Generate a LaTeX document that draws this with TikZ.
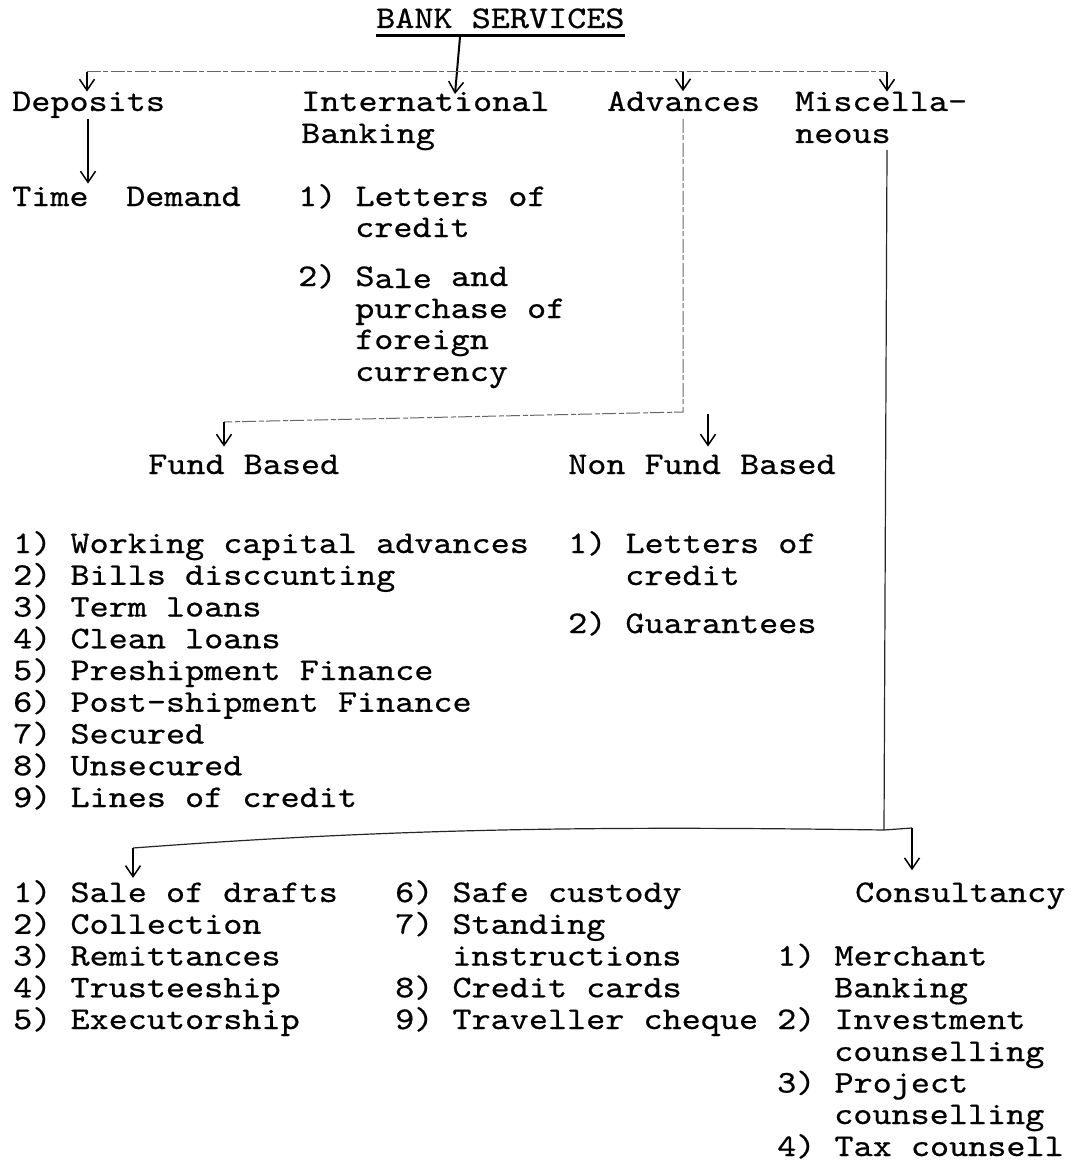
\documentclass[tikz,border=0pt]{standalone}
\usepackage{fontspec}
\newfontfamily\tw{lmmono10-regular.otf}[FakeStretch=1.155,FakeBold=0.6]
\usetikzlibrary{arrows.meta,calc}
\newcommand\twf{\tw\fontsize{31.5}{31.7}\selectfont}
\begin{document}
\begin{tikzpicture}[x=1pt,y=-1pt,
  txt/.style={anchor=base west,inner sep=0pt,font=\twf},
  arr/.style={-{Straight Barb[length=11pt,width=15pt,line width=1.5pt]},line width=1.3pt},
  faint/.style={line width=1pt,black!60,dash pattern=on 14pt off 2pt on 5pt off 3pt},
  solidln/.style={line width=1.2pt,black!85}]
\useasboundingbox[fill=white] (0,0) rectangle (1081,1161);
% top
\node[txt] (title) at (376,28) {BANK SERVICES};
\node[txt] (dep) at (12,111) {Deposits};
\node[txt] (intl) at (301,111) {International};
\node[txt] (intlb) at (301,143) {Banking};
\node[txt] (adv) at (607,111) {Advances};
\node[txt] (misc) at (795,111) {Miscella-};
\node[txt] (miscb) at (795,143) {neous};
\node[txt] (time) at (12,206) {Time};
\node[txt] (demand) at (126,206) {Demand};
\node[txt] (ib1) at (298,206) {1) Letters of};
\node[txt] (ib1b) at (355,237) {credit};
\node[txt] (ib2) at (298,286) {2) S\raisebox{-2pt}{ale} and};
\node[txt] (ib2b) at (355,318) {purchase of};
\node[txt] (ib2c) at (355,349) {foreign};
\node[txt] (ib2d) at (355,381) {currency};
% advances
\node[txt] (fund) at (148,474) {Fund Based};
\node[txt] (nonfund) at (568,474) {Non Fund Based};
\node[txt] (fb1) at (13,553) {1) Working capital advances};
\node[txt] (fb2) at (13,584.75) {2) Bills disccunting};
\node[txt] (fb3) at (13,616.5) {3) Term loans};
\node[txt] (fb4) at (13,648.25) {4) Clean loans};
\node[txt] (fb5) at (13,680) {5) Preshipment Finance};
\node[txt] (fb6) at (13,711.75) {6) Post-shipment Finance};
\node[txt] (fb7) at (13,743.5) {7) Secured};
\node[txt] (fb8) at (13,775.25) {8) Unsecured};
\node[txt] (fb9) at (13,807) {9) Lines of credit};
\node[txt] (nf1) at (568,553) {1) Letters of};
\node[txt] (nf1b) at (625,585) {credit};
\node[txt] (nf2) at (568,633) {2) Guarantees};
% miscellaneous
\node[txt] (o1) at (13,902) {1) Sale of drafts};
\node[txt] (o2) at (13,933.75) {2) Collection};
\node[txt] (o3) at (13,965.5) {3) Remittances};
\node[txt] (o4) at (13,997.25) {4) Trusteeship};
\node[txt] (o5) at (13,1029) {5) Executorship};
\node[txt] (o6) at (395,902) {6) Safe custody};
\node[txt] (o7) at (395,933.75) {7) Standing};
\node[txt] (o7b) at (452,965.5) {instructions};
\node[txt] (o8) at (395,997.25) {8) Credit cards};
\node[txt] (o9) at (395,1029) {9) Traveller cheque};
\node[txt] (cons) at (855,902) {Consultancy};
\node[txt] (c1) at (777,965.5) {1) Merchant};
\node[txt] (c1b) at (834,997.25) {Banking};
\node[txt] (c2) at (777,1029) {2) Investment};
\node[txt] (c2b) at (834,1061) {counselling};
\node[txt] (c3) at (777,1092.5) {3) Project};
\node[txt] (c3b) at (834,1124) {counselling};
\node[txt] (c4) at (777,1156) {4) Tax counsell};
% connectors
\draw[line width=3pt] ($(title.base west)+(0,7.5)$) -- ($(title.base east)+(0,7.5)$);
\coordinate (t0) at (460,37);
\coordinate (t1) at (455,94);
\draw[arr,line width=2pt] (t0) -- (t1);
\coordinate (b1) at (87,72);
\coordinate (b2) at (683,72);
\coordinate (b3) at (887,72);
\draw[faint] (b1) -- (b3);
\draw[arr] (b1) -- (b1 |- dep.north);
\draw[arr] (b2) -- (b2 |- adv.north);
\draw[arr] (b3) -- (b3 |- misc.north);
\coordinate (d0) at (88,119);
\draw[arr] (d0) -- ([yshift=3pt]d0 |- time.north);
\coordinate (a0) at (683,119);
\coordinate (a1) at (683,412);
\coordinate (fb0) at (224,422);
\coordinate (nf0) at (708,414);
\draw[faint] (a0) -- (a1) -- (fb0);
\draw[arr,shorten >=8pt] (fb0) -- (fb0 |- fund.north);
\draw[arr,shorten >=8pt] (nf0) -- (nf0 |- nonfund.north);
\coordinate (mj0) at (887,150);
\coordinate (mj1) at (884,830);
\coordinate (s0) at (133,848);
\coordinate (k0) at (912,828);
\draw[solidln] (mj0) -- (mj1);
\draw[solidln] (s0) .. controls (400,828) and (600,826) .. (mj1) -- (k0);
\draw[arr,shorten >=2pt] (s0) -- (s0 |- o1.north);
\draw[arr,shorten >=12pt] (k0) -- (k0 |- cons.north);
\end{tikzpicture}
\end{document}
